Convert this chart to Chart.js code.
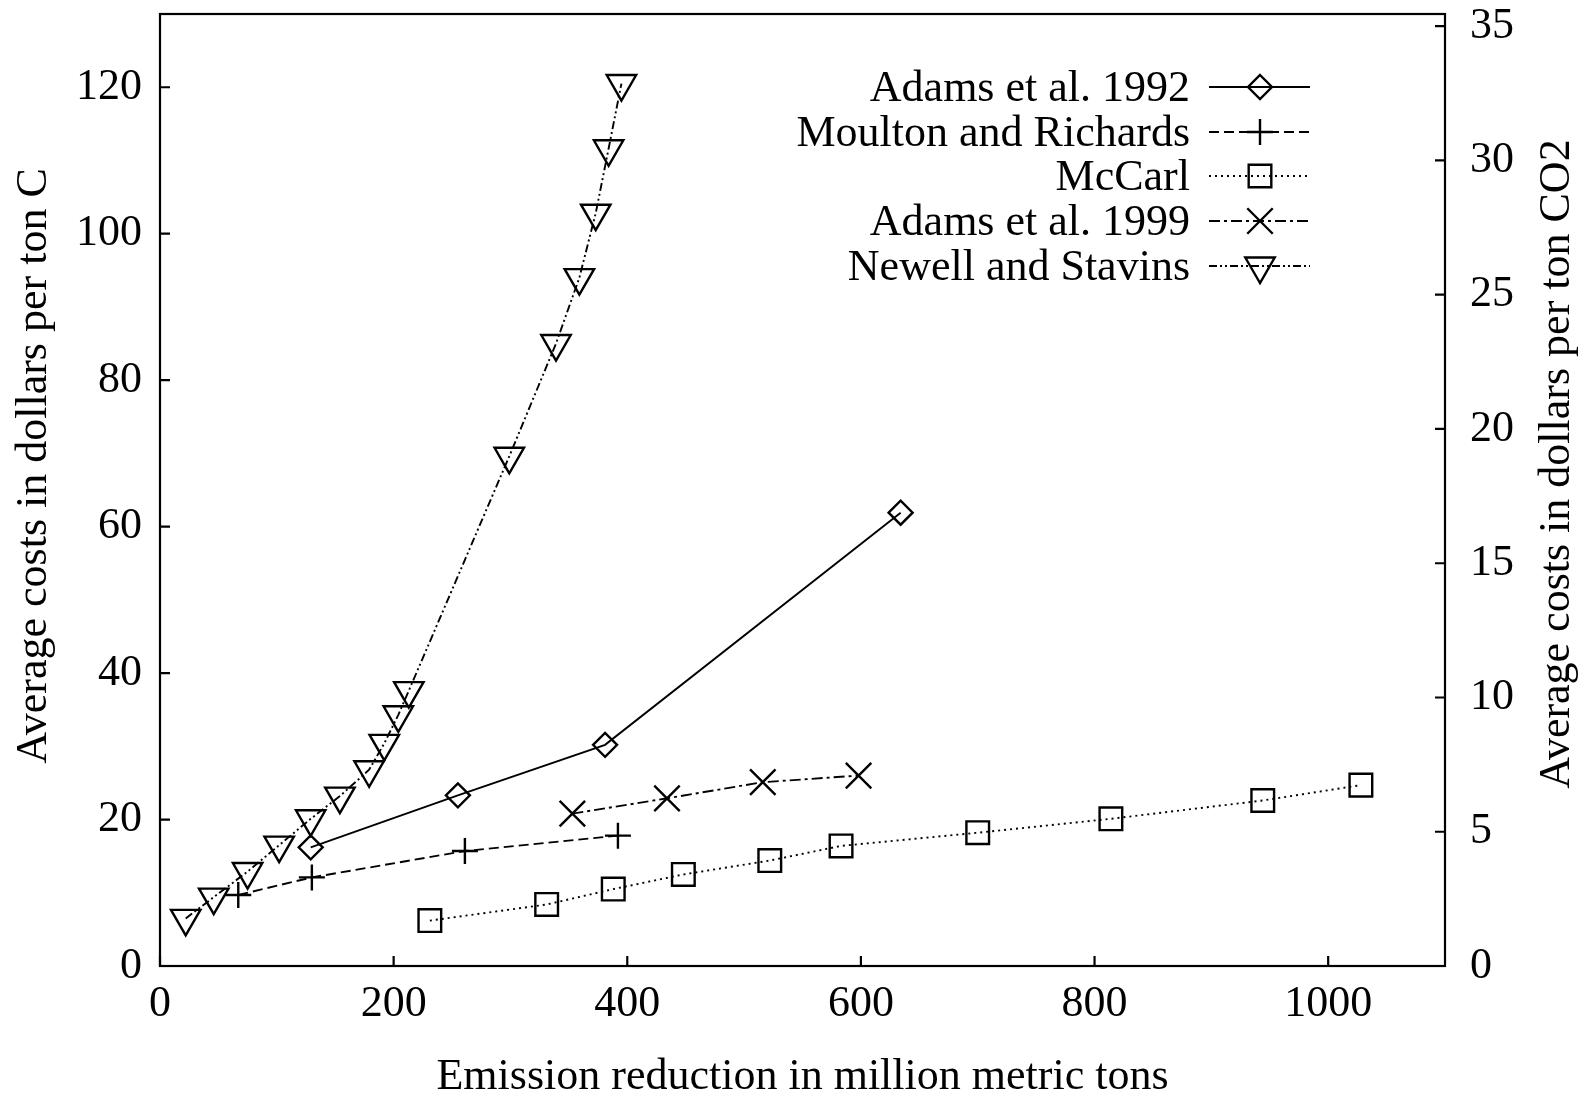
<!DOCTYPE html>
<html>
<head>
<meta charset="utf-8">
<script src="https://cdn.jsdelivr.net/npm/chart.js@4/dist/chart.umd.min.js"></script>
<style>
  html, body { margin: 0; padding: 0; background: #fff; overflow: hidden; }
  canvas { display: block; }
</style>
</head>
<body>
<canvas id="costChart" width="1589" height="1099" style="width:1589px;height:1099px"></canvas>
<script>
// values: x = emission reduction (Mt), y = $ per ton C
const seriesNames = ['Adams et al. 1992', 'Moulton and Richards', 'McCarl', 'Adams et al. 1999', 'Newell and Stavins'];

const adams92X = [129, 255, 381, 634];
const adams92Y = [16.2, 23.3, 30.2, 61.9];

const moultonX = [67, 130, 261, 392];
const moultonY = [9.7, 12.1, 15.7, 17.8];

const mccarlX = [231, 331, 388, 448, 522, 583, 700, 814, 944, 1028];
const mccarlY = [6.2, 8.4, 10.5, 12.5, 14.4, 16.4, 18.2, 20.1, 22.6, 24.7];

const adams99X = [353, 434, 516, 598];
const adams99Y = [20.8, 22.9, 25.1, 26.0];

const newellX = [22, 46, 75, 102, 129, 154, 179, 192, 204, 213, 299, 339, 359, 373, 384, 395];
const newellY = [6.5, 9.4, 12.9, 16.5, 20.1, 23.2, 26.8, 30.4, 34.3, 37.6, 69.6, 85.0, 94.0, 102.8, 111.6, 120.5];

const xTicks = [0, 200, 400, 600, 800, 1000];
const yTicks = [0, 20, 40, 60, 80, 100, 120];
const y2Ticks = [0, 5, 10, 15, 20, 25, 30, 35];

const X_MAX = 1100;
const Y_MAX = 130;
const C_TO_CO2 = 12 / 44;

function pts(xs, ys) {
    return xs.map(function (x, i) { return { x: x, y: ys[i] }; });
}

const FONT = 'Liberation Serif, Times New Roman, serif';
const FS = 44;
const LW = 1.9;

function mkSet(label, data, dash, style, radius, rotation) {
    return {
        label: label,
        data: data,
        showLine: true,
        borderColor: '#000',
        backgroundColor: 'rgba(0,0,0,0)',
        borderWidth: LW,
        borderDash: dash,
        pointStyle: style,
        pointRadius: radius,
        pointHoverRadius: radius,
        pointRotation: rotation,
        pointBorderWidth: 2.4,
        pointBorderColor: '#000',
        pointBackgroundColor: 'rgba(0,0,0,0)',
        tension: 0,
        clip: false
    };
}

const datasets = [
    mkSet(seriesNames[0], pts(adams92X, adams92Y), [], 'rectRot', 12, 0),
    mkSet(seriesNames[1], pts(moultonX, moultonY), [10, 5], 'cross', 13, 0),
    mkSet(seriesNames[2], pts(mccarlX, mccarlY), [2, 4], 'rect', 16, 0),
    mkSet(seriesNames[3], pts(adams99X, adams99Y), [11, 4, 3, 4], 'crossRot', 18, 0),
    mkSet(seriesNames[4], pts(newellX, newellY), [8, 3, 2, 3, 2, 3], 'triangle', 17, 180)
];

// marker drawing for the legend (same shapes as chart.js point styles)
function marker(ctx, style, x, y, r, rot) {
    ctx.beginPath();
    if (style === 'rectRot') {
        ctx.moveTo(x, y - r); ctx.lineTo(x + r, y); ctx.lineTo(x, y + r); ctx.lineTo(x - r, y); ctx.closePath();
    } else if (style === 'rect') {
        const s = Math.SQRT1_2 * r;
        ctx.rect(x - s, y - s, 2 * s, 2 * s);
    } else if (style === 'cross') {
        ctx.moveTo(x - r, y); ctx.lineTo(x + r, y); ctx.moveTo(x, y - r); ctx.lineTo(x, y + r);
    } else if (style === 'crossRot') {
        const s = Math.SQRT1_2 * r;
        ctx.moveTo(x - s, y - s); ctx.lineTo(x + s, y + s); ctx.moveTo(x - s, y + s); ctx.lineTo(x + s, y - s);
    } else if (style === 'triangle') {
        const a = rot * Math.PI / 180;
        for (let k = 0; k < 3; k++) {
            const t = a - Math.PI / 2 + k * 2 * Math.PI / 3;
            const px = x + Math.cos(t) * r, py = y + Math.sin(t) * r;
            if (k === 0) ctx.moveTo(px, py); else ctx.lineTo(px, py);
        }
        ctx.closePath();
    }
    ctx.stroke();
}

function vtitle(ctx, text, x, y) {
    ctx.save();
    ctx.fillStyle = '#000';
    ctx.font = FS + 'px ' + FONT;
    ctx.textAlign = 'center';
    ctx.textBaseline = 'middle';
    ctx.translate(x, y);
    ctx.rotate(-Math.PI / 2);
    ctx.fillText(text, 0, 0);
    ctx.restore();
}

const framePlugin = {
    id: 'frame',
    afterDatasetsDraw: function (chart) {
        const ctx = chart.ctx;
        const a = chart.chartArea;
        const sx = chart.scales.x, sy = chart.scales.y, sy2 = chart.scales.y2;
        ctx.save();
        ctx.strokeStyle = '#000';
        ctx.lineWidth = 2.2;
        ctx.setLineDash([]);
        ctx.strokeRect(a.left, a.top, a.right - a.left, a.bottom - a.top);
        const tl = 10;
        ctx.beginPath();
        yTicks.forEach(function (v) {
            const p = sy.getPixelForValue(v);
            ctx.moveTo(a.left, p); ctx.lineTo(a.left + tl, p);
        });
        xTicks.forEach(function (v) {
            const p = sx.getPixelForValue(v);
            ctx.moveTo(p, a.bottom); ctx.lineTo(p, a.bottom - tl);
        });
        y2Ticks.forEach(function (v) {
            const p = sy2.getPixelForValue(v);
            ctx.moveTo(a.right, p); ctx.lineTo(a.right - tl, p);
        });
        ctx.stroke();
        ctx.restore();

        // axis titles, both reading bottom to top
        vtitle(ctx, 'Average costs in dollars per ton C', 34, 466);
        vtitle(ctx, 'Average costs in dollars per ton CO2', 1557, 464);

        // legend: text right aligned, sample on the right
        ctx.save();
        ctx.font = FS + 'px ' + FONT;
        ctx.fillStyle = '#000';
        ctx.textAlign = 'right';
        ctx.textBaseline = 'middle';
        const rows = [87, 132, 176, 221, 266];
        chart.data.datasets.forEach(function (ds, i) {
            const y = rows[i];
            ctx.fillText(ds.label, 1190, y + 2);
            ctx.strokeStyle = '#000';
            ctx.lineWidth = LW;
            ctx.setLineDash(ds.borderDash);
            ctx.beginPath();
            ctx.moveTo(1209, y); ctx.lineTo(1310, y);
            ctx.stroke();
            ctx.setLineDash([]);
            ctx.lineWidth = 2.4;
            marker(ctx, ds.pointStyle, 1260, y, ds.pointRadius, ds.pointRotation);
        });
        ctx.restore();
    }
};

function noPad(s) {
    s.paddingTop = 0; s.paddingBottom = 0; s.paddingLeft = 0; s.paddingRight = 0;
}

Chart.defaults.font.family = FONT;
Chart.defaults.color = '#000';

new Chart(document.getElementById('costChart'), {
    type: 'line',
    data: { datasets: datasets },
    options: {
        responsive: false,
        animation: false,
        devicePixelRatio: 1,
        layout: { autoPadding: false, padding: { top: 14, left: 0, right: 0, bottom: 0 } },
        plugins: { legend: { display: false }, tooltip: { enabled: false } },
        scales: {
            x: {
                type: 'linear',
                min: 0,
                max: X_MAX,
                grid: { display: false, drawTicks: false },
                border: { display: false },
                afterBuildTicks: function (s) { s.ticks = xTicks.map(function (v) { return { value: v }; }); },
                afterFit: function (s) { s.height = 133; noPad(s); },
                ticks: { font: { size: FS }, padding: 12, maxRotation: 0, callback: function (v) { return String(v); } },
                title: {
                    display: true,
                    text: 'Emission reduction in million metric tons',
                    font: { size: FS, lineHeight: 1 },
                    padding: { top: 0, bottom: 0 }
                }
            },
            y: {
                type: 'linear',
                position: 'left',
                min: 0,
                max: Y_MAX,
                grid: { display: false, drawTicks: false },
                border: { display: false },
                afterBuildTicks: function (s) { s.ticks = yTicks.map(function (v) { return { value: v }; }); },
                afterFit: function (s) { s.width = 160; noPad(s); },
                ticks: { font: { size: FS }, padding: 18, callback: function (v) { return String(v); } }
            },
            y2: {
                type: 'linear',
                position: 'right',
                min: 0,
                max: Y_MAX * C_TO_CO2,
                grid: { display: false, drawTicks: false },
                border: { display: false },
                afterBuildTicks: function (s) { s.ticks = y2Ticks.map(function (v) { return { value: v }; }); },
                afterFit: function (s) { s.width = 144; noPad(s); },
                ticks: { font: { size: FS }, padding: 25, callback: function (v) { return String(v); } }
            }
        }
    },
    plugins: [framePlugin]
});
</script>
</body>
</html>
